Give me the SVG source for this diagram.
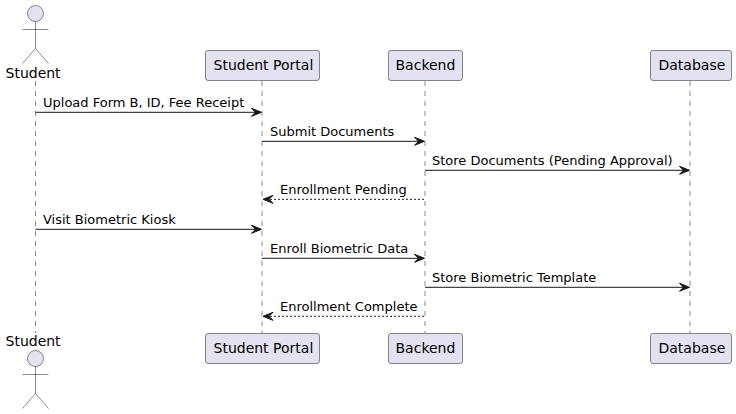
<svg xmlns="http://www.w3.org/2000/svg" width="736" height="414" viewBox="0 0 736 414">
<style>
text{font-family:"DejaVu Sans",sans-serif;fill:#000}
.n{font-size:14px}
.m{font-size:13px}
.box{fill:#E2E2F0;stroke:#181818;stroke-width:.5}
.act{fill:#E2E2F0;stroke:#181818;stroke-width:.5}
.life{stroke:#181818;stroke-width:.5;stroke-dasharray:5,5;fill:none}
.msg{stroke:#181818;stroke-width:1;fill:none}
.dash{stroke-dasharray:2,2}
.head{fill:#181818;stroke:#181818;stroke-width:1}
</style>
<defs>
<g id="actor"><circle class="act" cx="0" cy="0" r="8"/><path class="act" style="fill:none" d="M0 8V35M-13 16H13M0 35L-13 50M0 35L13 50"/></g>
<path id="r" class="head" d="M-10 -4L0 0L-10 4L-6 0Z"/>
<path id="l" class="head" d="M10 -4L0 0L10 4L6 0Z"/>
</defs>
<g id="connectors">
<path class="life" d="M35.500 81V333"/><path class="life" d="M262 81V333"/><path class="life" d="M425 81V333"/><path class="life" d="M690 81V333"/>
<path class="msg" d="M35.500 112.300H258"/><use href="#r" x="261.500" y="112.300"/>
<path class="msg" d="M262 141.300H421"/><use href="#r" x="424.500" y="141.300"/>
<path class="msg" d="M425 170.300H686"/><use href="#r" x="689.500" y="170.300"/>
<path class="msg dash" d="M266 199.300H425"/><use href="#l" x="263" y="199.300"/>
<path class="msg" d="M35.500 229.300H258"/><use href="#r" x="261.500" y="229.300"/>
<path class="msg" d="M262 258.300H421"/><use href="#r" x="424.500" y="258.300"/>
<path class="msg" d="M425 287.300H686"/><use href="#r" x="689.500" y="287.300"/>
<path class="msg dash" d="M266 316.300H425"/><use href="#l" x="263" y="316.300"/>
<text class="m" x="43" y="107">Upload Form B, ID, Fee Receipt</text>
<text class="m" x="270" y="136">Submit Documents</text>
<text class="m" x="432" y="165">Store Documents (Pending Approval)</text>
<text class="m" x="280" y="194">Enrollment Pending</text>
<text class="m" x="43" y="224">Visit Biometric Kiosk</text>
<text class="m" x="270" y="253">Enroll Biometric Data</text>
<text class="m" x="432" y="282">Store Biometric Template</text>
<text class="m" x="280" y="311">Enrollment Complete</text>
</g>
<g id="student-top"><use href="#actor" x="35.500" y="13.500"/><text class="n" x="5.500" y="78">Student</text></g>
<g id="portal-top"><rect class="box" x="205.500" y="50.500" width="114" height="30" rx="2.500"/><text class="n" x="213.500" y="70">Student Portal</text></g>
<g id="backend-top"><rect class="box" x="388.500" y="50.500" width="74" height="30" rx="2.500"/><text class="n" x="395.500" y="70">Backend</text></g>
<g id="database-top"><rect class="box" x="650.500" y="50.500" width="81" height="30" rx="2.500"/><text class="n" x="658.500" y="70">Database</text></g>
<g id="student-bottom"><text class="n" x="5.500" y="346">Student</text><use href="#actor" x="35.500" y="358.500"/></g>
<g id="portal-bottom"><rect class="box" x="205.500" y="333.500" width="114" height="30" rx="2.500"/><text class="n" x="213.500" y="353">Student Portal</text></g>
<g id="backend-bottom"><rect class="box" x="388.500" y="333.500" width="74" height="30" rx="2.500"/><text class="n" x="395.500" y="353">Backend</text></g>
<g id="database-bottom"><rect class="box" x="650.500" y="333.500" width="81" height="30" rx="2.500"/><text class="n" x="658.500" y="353">Database</text></g>
</svg>
